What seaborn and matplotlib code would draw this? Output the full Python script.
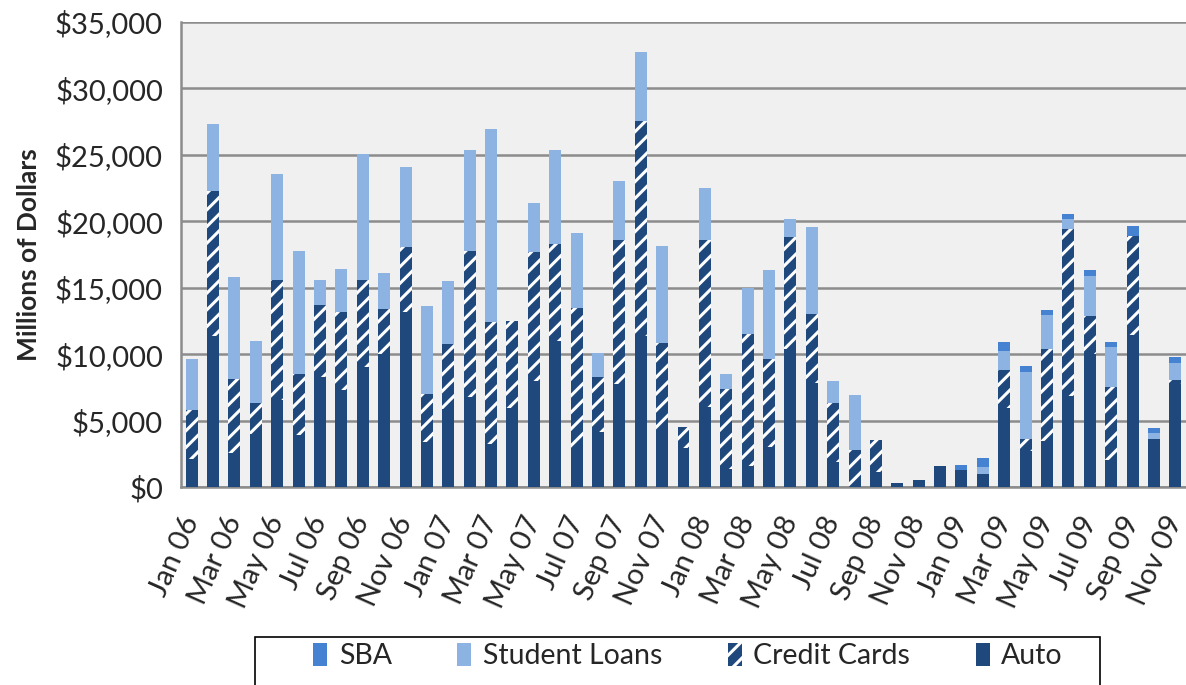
import pandas as pd
import seaborn as sns
import matplotlib.pyplot as plt
from matplotlib.patches import Patch, Rectangle
from matplotlib.ticker import FuncFormatter

# Monthly values, millions of dollars (Jan 06 - Nov 09)
months = ["Jan 06", "Feb 06", "Mar 06", "Apr 06", "May 06", "Jun 06", "Jul 06", "Aug 06",
          "Sep 06", "Oct 06", "Nov 06", "Dec 06", "Jan 07", "Feb 07", "Mar 07", "Apr 07",
          "May 07", "Jun 07", "Jul 07", "Aug 07", "Sep 07", "Oct 07", "Nov 07", "Dec 07",
          "Jan 08", "Feb 08", "Mar 08", "Apr 08", "May 08", "Jun 08", "Jul 08", "Aug 08",
          "Sep 08", "Oct 08", "Nov 08", "Dec 08", "Jan 09", "Feb 09", "Mar 09", "Apr 09",
          "May 09", "Jun 09", "Jul 09", "Aug 09", "Sep 09", "Oct 09", "Nov 09"]
auto = [2100, 11400, 2550, 4000, 6550, 3950, 8300, 7300, 9000, 10000, 13200, 3400,
        5850, 6750, 3200, 5950, 8000, 11000, 2900, 4150, 7750, 11400, 4300, 2900,
        6050, 1350, 1600, 3000, 10400, 7800, 1900, 0, 1150, 280, 500, 1600,
        1250, 1000, 5950, 2700, 3450, 6850, 10000, 2000, 11450, 3650, 7750]
credit_cards = [3700, 10900, 5600, 2350, 9000, 4550, 5400, 5900, 6600, 3400, 4900, 3600,
                4950, 11000, 9250, 6550, 9700, 7300, 10550, 4150, 10850, 16150, 6550, 1650,
                12550, 6050, 9950, 6650, 8400, 5200, 4400, 2800, 2400, 0, 0, 0,
                0, 0, 2850, 900, 6900, 12600, 2900, 5500, 7450, 0, 300]
student_loans = [3850, 5000, 7650, 4650, 8000, 9300, 1850, 3200, 9500, 2700, 5950, 6650,
                 4700, 7650, 14500, 0, 3700, 7100, 5650, 1800, 4450, 5200, 7300, 0,
                 3900, 1100, 3400, 6650, 1400, 6550, 1650, 4100, 0, 0, 0, 0,
                 0, 530, 1450, 5050, 2600, 700, 3000, 3050, 0, 400, 1250]
sba = [0] * 36 + [380, 630, 650, 430, 380, 380, 430, 350, 750, 380, 480]

df = pd.DataFrame({"month": months, "Auto": auto, "Credit Cards": credit_cards,
                   "Student Loans": student_loans, "SBA": sba})
df["s_auto"] = df["Auto"]
df["s_cc"] = df["s_auto"] + df["Credit Cards"]
df["s_sl"] = df["s_cc"] + df["Student Loans"]
df["s_sba"] = df["s_sl"] + df["SBA"]

c_auto = "#1F497D"
c_sl = "#8DB3E2"
c_sba = "#4583D2"

sns.set_style("white")
plt.rcParams["font.family"] = ["Lato", "DejaVu Sans"]
plt.rcParams["hatch.linewidth"] = 2.2

fig = plt.figure(figsize=(11.86, 6.85), dpi=100)
ax = fig.add_axes([181 / 1186, 1 - 487 / 685, 1 - 181 / 1186, 465 / 685])
ax.set_facecolor("#F0F0F0")

# stacked by drawing cumulative totals back to front
layers = [("s_sba", c_sba, None), ("s_sl", c_sl, None),
          ("s_cc", c_auto, "//"), ("s_auto", c_auto, None)]
for col, colr, htch in layers:
    sns.barplot(data=df, x="month", y=col, color=colr, saturation=1, width=0.56,
                edgecolor="white", linewidth=0, hatch=htch, ax=ax, zorder=3)

ax.set_ylim(0, 35000)
ax.set_xlim(-0.5, len(months) - 0.5)
ax.set_yticks(range(0, 35001, 5000))
ax.yaxis.set_major_formatter(FuncFormatter(lambda v, p: f"${v:,.0f}"))
ax.grid(axis="y", color="#8C8C8C", linewidth=1.8, zorder=1)
ax.set_axisbelow(True)

ax.set_xticks(range(0, len(months), 2))
ax.set_xticklabels(months[::2], rotation=66, ha="right", va="center",
                   rotation_mode="anchor", fontsize=21)
ax.set_xticks([i - 0.5 for i in range(len(months) + 1)], minor=True)
ax.tick_params(axis="x", which="major", length=0, pad=22)
ax.tick_params(axis="x", which="minor", length=7, width=1.5, color="#8C8C8C")
ax.tick_params(axis="y", length=7, width=1.5, color="#8C8C8C", labelsize=21, pad=6)

ax.set_xlabel("")
ax.set_ylabel("Millions of Dollars", fontsize=19, fontweight="bold")
ax.yaxis.set_label_coords(-140 / 1005, 0.5)

for s in ["top", "right"]:
    ax.spines[s].set_visible(False)
for s in ["left", "bottom"]:
    ax.spines[s].set_color("#8C8C8C")
    ax.spines[s].set_linewidth(1.8)

# legend box, cut off by the bottom of the figure as in the original
fig.patches.append(Rectangle((255 / 1186, -0.05), (1100 - 255) / 1186, 0.05 + 1 - 637 / 685,
                             transform=fig.transFigure, fill=False, edgecolor="black",
                             linewidth=1.2))
handles = [Patch(facecolor=c_sba, edgecolor="none", label="SBA"),
           Patch(facecolor=c_sl, edgecolor="none", label="Student Loans"),
           Patch(facecolor=c_auto, edgecolor="white", linewidth=0, hatch="//",
                 label="Credit Cards"),
           Patch(facecolor=c_auto, edgecolor="none", label="Auto")]
fig.legend(handles=handles, loc="center", bbox_to_anchor=(688 / 1186, 1 - 656 / 685),
           ncol=4, frameon=False, fontsize=20.5, handlelength=0.5, handleheight=0.85,
           handletextpad=0.4, columnspacing=2.3)

fig.savefig("out.png", dpi=100)
